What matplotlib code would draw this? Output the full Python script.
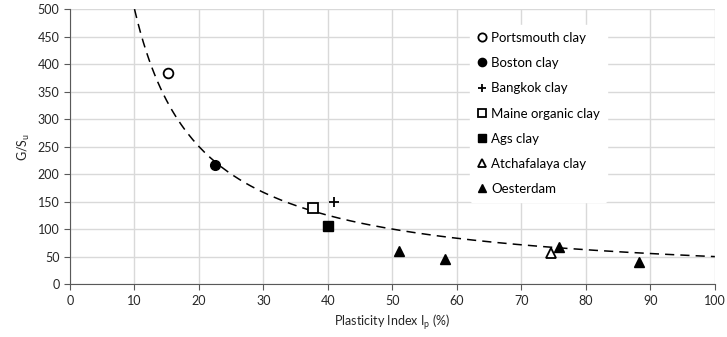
import numpy as np
import matplotlib.pyplot as plt

plt.rcParams["font.family"] = ["Lato", "DejaVu Sans"]

# data
portsmouth_ip = [15.2]
portsmouth_g = [383]
boston_ip = [22.5]
boston_g = [217]
bangkok_ip = [41.0]
bangkok_g = [150]
maine_ip = [37.7]
maine_g = [139]
ags_ip = [40.0]
ags_g = [105]
atchafalaya_ip = [74.6]
atchafalaya_g = [57]
oesterdam_ip = [51.0, 58.2, 75.8, 88.2]
oesterdam_g = [61, 46, 68, 40]

# trend line G/Su = a / Ip
trend_a = 5000
trend_ip = np.linspace(10, 100, 200)

fig = plt.figure(figsize=(7.27, 3.37), dpi=100)
ax = fig.add_axes([0.0963, 0.157, 0.887, 0.816])

ax.plot(trend_ip, trend_a / trend_ip, linestyle=(0, (6, 4)), color="black", lw=1.1, zorder=2)

ms = 7
ax.plot(portsmouth_ip, portsmouth_g, "o", mfc="white", mec="black", mew=1.3, ms=ms, ls="none", label="Portsmouth clay", zorder=3)
ax.plot(boston_ip, boston_g, "o", color="black", ms=ms, ls="none", label="Boston clay", zorder=3)
ax.plot(bangkok_ip, bangkok_g, "+", color="black", mew=1.3, ms=ms, ls="none", label="Bangkok clay", zorder=3)
ax.plot(maine_ip, maine_g, "s", mfc="white", mec="black", mew=1.3, ms=ms, ls="none", label="Maine organic clay", zorder=3)
ax.plot(ags_ip, ags_g, "s", color="black", ms=ms, ls="none", label="Ags clay", zorder=3)
ax.plot(atchafalaya_ip, atchafalaya_g, "^", mfc="white", mec="black", mew=1.3, ms=ms, ls="none", label="Atchafalaya clay", zorder=3)
ax.plot(oesterdam_ip, oesterdam_g, "^", color="black", ms=ms, ls="none", label="Oesterdam", zorder=3)

ax.set_xlim(0, 100)
ax.set_ylim(0, 500)
ax.set_xticks(range(0, 101, 10))
ax.set_yticks(range(0, 501, 50))
ax.grid(True, color="#d9d9d9", lw=1)
ax.set_axisbelow(True)
for s in ["top", "right"]:
    ax.spines[s].set_visible(False)
for s in ["left", "bottom"]:
    ax.spines[s].set_color("#595959")
ax.tick_params(labelsize=9, color="#595959", length=4, labelcolor="#262626")

ax.set_xlabel("Plasticity Index I$_\\mathregular{p}$ (%)", fontsize=9, color="#262626")
ax.set_ylabel("G/S$_\\mathregular{u}$", fontsize=9, color="#262626")

leg = ax.legend(loc="upper left", bbox_to_anchor=(0.61, 0.965), frameon=True, fontsize=9.5,
                handlelength=0.8, handletextpad=0.3, labelspacing=1.0, borderpad=0.5,
                markerscale=0.85)
leg.get_frame().set_edgecolor("white")
leg.get_frame().set_facecolor("white")
leg.get_frame().set_alpha(1)

plt.savefig("out.png", dpi=100)
